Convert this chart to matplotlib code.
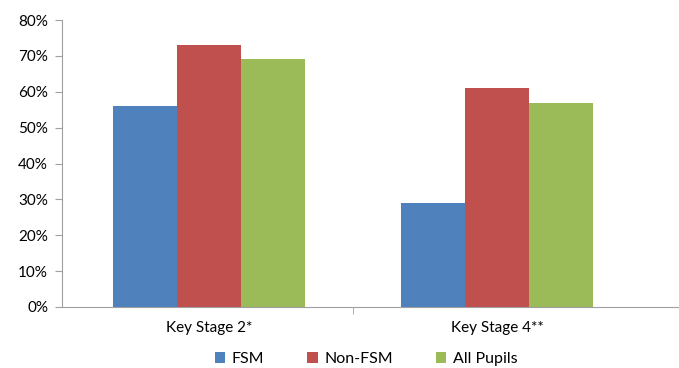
import numpy as np
import matplotlib.pyplot as plt
from matplotlib.ticker import PercentFormatter, FixedLocator

plt.rcParams['font.family'] = ['Lato', 'DejaVu Sans']

# Attainment by pupil group
stages = ['Key Stage 2*', 'Key Stage 4**']
fsm = [56, 29]
non_fsm = [73, 61]
all_pupils = [69, 57]

series = [('FSM', fsm, '#4f81bd'),
          ('Non-FSM', non_fsm, '#c0504d'),
          ('All Pupils', all_pupils, '#9bbb59')]

fig = plt.figure(figsize=(6.79, 3.68), dpi=100)
ax = fig.add_axes([62/679, 61/368, 617/679, 287/368])

x = np.arange(len(stages))
w = 0.222
for i, (name, vals, col) in enumerate(series):
    ax.bar(x + (i - 1) * w, vals, w, color=col, label=name, linewidth=0)

ax.set_ylim(0, 80)
ax.set_xlim(-0.51, 1.632)
ax.yaxis.set_major_locator(FixedLocator(range(0, 81, 10)))
ax.yaxis.set_major_formatter(PercentFormatter(decimals=0))

ax.set_xticks(x)
ax.set_xticklabels(stages)
ax.tick_params(axis='x', which='major', length=0, pad=10, labelsize=11)
ax.xaxis.set_minor_locator(FixedLocator([0.5]))
ax.tick_params(axis='x', which='minor', length=5, color='#a0a0a0', direction='out')
ax.tick_params(axis='y', length=5, color='#a0a0a0', labelsize=11, pad=5)

for s in ('top', 'right'):
    ax.spines[s].set_visible(False)
for s in ('left', 'bottom'):
    ax.spines[s].set_color('#a0a0a0')

ax.legend(loc='center', bbox_to_anchor=(366/679, 9/368), bbox_transform=fig.transFigure,
          ncol=3, frameon=False, fontsize=11.5, handlelength=0.65, handleheight=0.65,
          handletextpad=0.4, columnspacing=2.7)

fig.savefig('out.png', dpi=100)
